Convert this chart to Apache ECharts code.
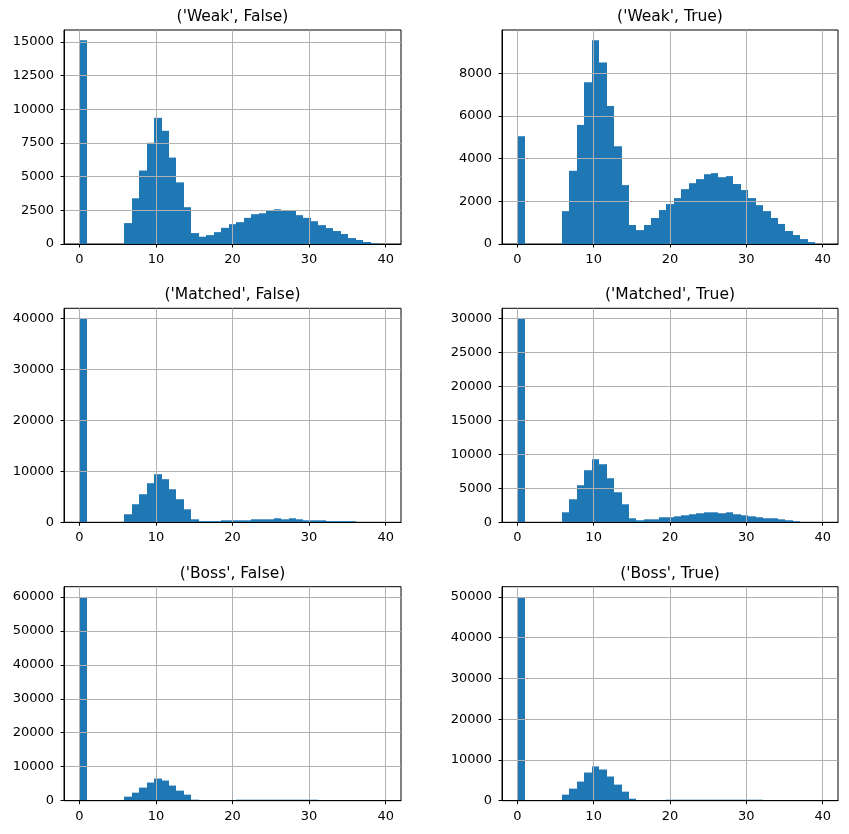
<!DOCTYPE html>
<html><head><meta charset="utf-8">
<script src="https://cdn.jsdelivr.net/npm/echarts@6/dist/echarts.min.js"></script>
<style>html,body{margin:0;padding:0;background:#fff}#c{width:849px;height:834px}</style>
</head><body><div id="c"></div>
<script>
// ---- data ----
const titles = ["('Weak', False)", "('Weak', True)", "('Matched', False)", "('Matched', True)", "('Boss', False)", "('Boss', True)"];
const binCount = 41;
const binRange = [0, 40];
const xTicks = [0, 10, 20, 30, 40];

const weakFalse = [15120,0,0,0,0,0,1550,3390,5450,7510,9360,8400,6410,4570,2730,810,540,660,880,1200,1470,1620,1940,2210,2280,2460,2580,2460,2460,2140,1940,1690,1400,1180,960,740,440,300,150,50,0];
const weakTrue = [5050,0,0,0,0,0,1540,3430,5580,7580,9550,8510,6470,4580,2760,890,650,890,1220,1590,1870,2150,2570,2850,3040,3270,3320,3130,3180,2810,2530,2150,1820,1540,1220,940,610,420,230,90,0];
const matchedFalse = [39950,0,0,0,0,0,1570,3540,5500,7660,9430,8450,6480,4520,2550,590,220,220,220,390,390,390,390,590,590,590,790,590,790,590,390,390,390,220,220,220,220,0,0,0,0];
const matchedTrue = [29970,0,0,0,0,0,1470,3390,5450,7660,9280,8540,6480,4420,2650,590,300,440,440,740,740,880,1030,1180,1330,1470,1470,1330,1470,1180,1030,880,740,590,590,440,300,150,0,0,0];
const bossFalse = [59980,0,0,0,0,0,1190,2370,3850,5340,6520,5930,4450,2960,1780,300,0,0,0,0,0,300,300,300,300,300,300,300,300,300,300,300,0,0,0,0,0,0,0,0,0];
const bossTrue = [49990,0,0,0,0,0,1480,2960,4690,6910,8400,7650,5930,3950,2220,490,0,0,0,0,250,250,250,250,250,250,250,250,250,250,250,250,250,0,0,0,0,0,0,0,0];

const yTicksWeakFalse = [0,2500,5000,7500,10000,12500,15000];
const yTicksWeakTrue = [0,2000,4000,6000,8000];
const yTicksMatchedFalse = [0,10000,20000,30000,40000];
const yTicksMatchedTrue = [0,5000,10000,15000,20000,25000,30000];
const yTicksBossFalse = [0,10000,20000,30000,40000,50000,60000];
const yTicksBossTrue = [0,10000,20000,30000,40000,50000];

const panelValues = [weakFalse, weakTrue, matchedFalse, matchedTrue, bossFalse, bossTrue];
const panelTicks = [yTicksWeakFalse, yTicksWeakTrue, yTicksMatchedFalse, yTicksMatchedTrue, yTicksBossFalse, yTicksBossTrue];

// ---- layout ----
const colLeft = [64, 502];
const colWidth = [337, 336];
const rowTop = [30, 308.3, 586.7];
const rowHeight = 214;
const titleY = [17, 295.3, 573.7];
const FONT = '"DejaVu Sans", sans-serif';
const BLUE = '#1f77b4';

const chart = echarts.init(document.getElementById('c'), null, {renderer: 'canvas'});
const grids = [], xAxes = [], yAxes = [], series = [], graphics = [];

panelValues.forEach((vals, k) => {
  const col = k % 2, row = Math.floor(k / 2);
  grids.push({left: colLeft[col], top: rowTop[row], width: colWidth[col], height: rowHeight,
    show: true, borderColor: '#000', borderWidth: 1, backgroundColor: 'transparent', containLabel: false});
  const w = (binRange[1] - binRange[0]) / binCount;
  const data = vals.map((v, i) => [binRange[0] + i * w, binRange[0] + (i + 1) * w, v]);
  const span = binRange[1] - binRange[0];
  xAxes.push({type: 'value', gridIndex: k, min: binRange[0] - 0.05 * span, max: binRange[1] + 0.05 * span, z: 3,
    axisLine: {show: true, onZero: false, lineStyle: {color: '#000', width: 1}},
    axisTick: {show: true, length: 3.5, lineStyle: {color: '#000', width: 1}, customValues: xTicks},
    axisLabel: {show: true, margin: 9, color: '#000', fontSize: 13, fontFamily: FONT, customValues: xTicks,
      formatter: v => String(v)},
    splitLine: {show: true, lineStyle: {color: '#b0b0b0', width: 1}}});
  const ticks = panelTicks[k];
  const vmax = Math.max.apply(null, vals) * 1.05;
  yAxes.push({type: 'value', gridIndex: k, min: 0, max: vmax, interval: ticks[1] - ticks[0], z: 3,
    axisLine: {show: true, onZero: false, lineStyle: {color: '#000', width: 1}},
    axisTick: {show: true, length: 3.5, lineStyle: {color: '#000', width: 1}, customValues: ticks},
    axisLabel: {show: true, margin: 10, color: '#000', fontSize: 13, fontFamily: FONT, customValues: ticks,
      formatter: v => String(v)},
    splitLine: {show: true, lineStyle: {color: '#b0b0b0', width: 1}}});
  series.push({type: 'custom', xAxisIndex: k, yAxisIndex: k, z: 1, silent: true, animation: false,
    data: data,
    encode: {x: [0, 1], y: 2},
    renderItem: function (params, api) {
      const v = api.value(2);
      if (!v) return null;
      const p0 = api.coord([api.value(0), v]);
      const p1 = api.coord([api.value(1), 0]);
      const x0 = Math.round(p0[0]), x1 = Math.round(p1[0]);
      return {type: 'rect', shape: {x: x0, y: p0[1], width: x1 - x0, height: p1[1] - p0[1]},
        style: {fill: BLUE, stroke: null, lineWidth: 0}};
    }});
  graphics.push({type: 'text', x: colLeft[col] + colWidth[col] / 2, y: titleY[row], z: 10,
    style: {text: titles[k], fill: '#000', fontSize: 15.5, fontFamily: FONT, align: 'center', verticalAlign: 'middle'}});
});

chart.setOption({
  animation: false,
  backgroundColor: '#fff',
  grid: grids, xAxis: xAxes, yAxis: yAxes, series: series, graphic: graphics
});
</script>
</body></html>
